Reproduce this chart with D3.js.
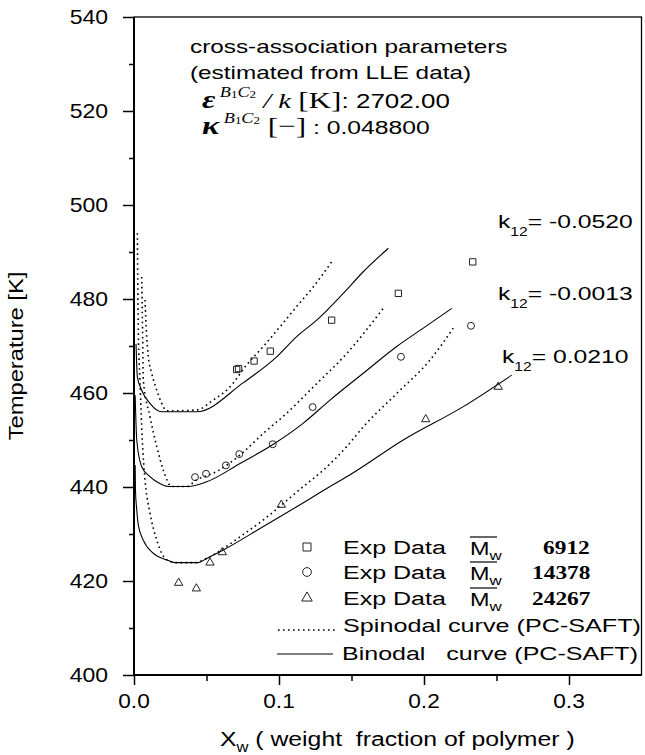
<!DOCTYPE html>
<html><head><meta charset="utf-8">
<script src="https://cdn.jsdelivr.net/npm/d3@7"></script>
<style>
body{margin:0;background:#fff}
svg{display:block}
text{font-family:"Liberation Sans",Arial,sans-serif;fill:#000;white-space:pre}
</style>
</head><body>
<svg id="c" width="645" height="755"></svg>
<script>
// ---------- data ----------
const xTicks = [0, 0.1, 0.2, 0.3];
const xMinor = [0.05, 0.15, 0.25];
const yTicks = [400, 420, 440, 460, 480, 500, 520, 540];
const yMinor = [410, 430, 450, 470, 490, 510, 530];

// Mw 6912, k12 = -0.0520
const exp6912_x = [0.0708, 0.0721, 0.0828, 0.094, 0.1363, 0.1823, 0.2336];
const exp6912_T = [465.0, 465.2, 466.8, 468.9, 475.5, 481.2, 487.9];
const bin6912_x = [0.0014, 0.0023, 0.0053, 0.011, 0.0191, 0.0432, 0.0754, 0.0984, 0.1122, 0.126, 0.1443, 0.1581, 0.1754];
const bin6912_T = [470.5, 463.5, 460.6, 457.8, 456.0, 456.0, 462.2, 467.7, 472.0, 475.5, 481.2, 485.8, 490.8];
const spin6912_x = [0.0076, 0.0086, 0.0099, 0.0122, 0.0157, 0.0191, 0.0226, 0.0432, 0.0547, 0.0662, 0.0777, 0.0892, 0.1007, 0.1122, 0.1237, 0.1363];
const spin6912_T = [479.8, 472.8, 467.7, 464.2, 460.6, 457.8, 456.2, 456.4, 458.5, 461.3, 466.0, 469.9, 474.1, 478.4, 482.6, 487.9];

// Mw 14378, k12 = -0.0013
const exp14378_x = [0.0421, 0.0497, 0.0634, 0.0726, 0.0957, 0.1232, 0.1841, 0.2324];
const exp14378_T = [442.1, 442.8, 444.6, 447.0, 449.1, 457.0, 467.7, 474.3];
const bin14378_x = [0.0008, 0.0019, 0.0053, 0.011, 0.0157, 0.0237, 0.0374, 0.0501, 0.0731, 0.0961, 0.1168, 0.1352, 0.1581, 0.1812, 0.1995, 0.2191];
const bin14378_T = [459.5, 450.0, 444.3, 442.2, 441.1, 440.1, 440.1, 441.1, 445.0, 449.1, 453.6, 458.5, 464.2, 469.9, 473.8, 478.0];
const spin14378_x = [0.0053, 0.0059, 0.0064, 0.011, 0.0157, 0.0202, 0.026, 0.0363, 0.0432, 0.057, 0.0731, 0.0892, 0.1053, 0.1237, 0.1467, 0.1719];
const spin14378_T = [484.7, 473.4, 462.8, 455.0, 448.6, 443.6, 440.1, 440.1, 441.5, 443.3, 446.8, 451.4, 455.7, 461.3, 468.4, 478.0];

// Mw 24267, k12 = 0.0210
const exp24267_x = [0.0308, 0.043, 0.0524, 0.0609, 0.1016, 0.2012, 0.2512];
const exp24267_T = [419.6, 418.4, 423.9, 426.1, 436.2, 454.4, 461.3];
const bin24267_x = [0.0008, 0.001, 0.0019, 0.003, 0.0064, 0.0133, 0.0226, 0.0283, 0.0443, 0.0501, 0.0616, 0.0892, 0.1122, 0.1352, 0.149, 0.1857, 0.2271, 0.2605];
const bin24267_T = [444.7, 439.4, 435.1, 431.9, 428.7, 425.9, 424.5, 423.9, 423.9, 424.8, 426.6, 431.6, 435.8, 440.1, 442.6, 450.0, 457.1, 463.8];
const spin24267_x = [0.0023, 0.003, 0.0041, 0.0057, 0.0076, 0.011, 0.0157, 0.0226, 0.0294, 0.042, 0.0501, 0.0616, 0.0731, 0.0892, 0.103, 0.1168, 0.1306, 0.1467, 0.1581, 0.1812, 0.2041, 0.2202];
const spin24267_T = [494.0, 472.8, 462.8, 450.0, 441.5, 434.5, 428.7, 424.5, 423.9, 423.9, 424.8, 426.9, 429.4, 433.0, 436.5, 440.1, 443.6, 448.6, 452.8, 459.9, 467.0, 473.8];

const kLabels = ["-0.0520", "-0.0013", "0.0210"];
const mwLabels = ["6912", "14378", "24267"];

// ---------- drawing ----------
const svg = d3.select("#c");
const x = d3.scaleLinear().domain([0, 0.35]).range([134, 641.5]);
const y = d3.scaleLinear().domain([400, 540]).range([675, 17]);

function stext(parent, tx, ty, sx, parts, anchor, rot) {
  const g = parent.append("g")
    .attr("transform", `translate(${tx},${ty})` + (rot ? ` rotate(${rot})` : "") + ` scale(${sx},1)`);
  const t = g.append("text").attr("text-anchor", anchor || "start");
  let cur = 0;
  parts.forEach(p => {
    const s = t.append("tspan").text(p.t);
    const sh = p.sh || 0;
    if (sh !== cur) { s.attr("dy", sh - cur); cur = sh; }
    s.style("font-size", (p.fs || 18) + "px");
    if (p.ff) s.style("font-family", p.ff);
    if (p.fw) s.style("font-weight", p.fw);
    if (p.fi) s.style("font-style", "italic");
  });
  return g;
}

// axes ticks
const gy = svg.append("g").attr("transform", "translate(134,0)");
gy.call(d3.axisLeft(y).tickValues(yTicks).tickSize(11).tickFormat(""));
gy.append("g").call(d3.axisLeft(y).tickValues(yMinor).tickSize(5).tickFormat(""));
const gx = svg.append("g").attr("transform", "translate(0,675)");
gx.call(d3.axisBottom(x).tickValues(xTicks).tickSize(10).tickFormat(""));
gx.append("g").call(d3.axisBottom(x).tickValues(xMinor).tickSize(6).tickFormat(""));
svg.selectAll(".domain").remove();
svg.selectAll(".tick line").attr("stroke", "#000").attr("stroke-width", 1.5);

// frame
svg.append("rect").attr("x", x(0)).attr("y", y(540))
  .attr("width", x(0.35) - x(0)).attr("height", y(400) - y(540))
  .attr("fill", "none").attr("stroke", "#000").attr("stroke-width", 1.3);
svg.append("line").attr("x1", x(0)).attr("x2", x(0)).attr("y1", y(540)).attr("y2", y(400))
  .attr("stroke", "#000").attr("stroke-width", 2);
svg.append("line").attr("x1", x(0)).attr("x2", x(0.35)).attr("y1", y(400)).attr("y2", y(400))
  .attr("stroke", "#000").attr("stroke-width", 2);

// tick labels
yTicks.forEach(v => stext(svg, 108, y(v) + 7, 1.15, [{t: String(v), fs: 20}], "end"));
xTicks.forEach(v => stext(svg, x(v), 708, 1.08, [{t: v.toFixed(1), fs: 21}], "middle"));

// axis titles
stext(svg, 23, 356, 1.13, [{t: "Temperature [K]", fs: 21}], "middle", -90);
stext(svg, 220, 746, 1.18, [{t: "X", fs: 21}, {t: "w", fs: 14, sh: 6}, {t: " ( weight  fraction of polymer )", fs: 21, sh: 0}], "start");

// curves
const line = d3.line().x(d => x(d[0])).y(d => y(d[1])).curve(d3.curveMonotoneX);
function curve(xs, ts, dotted) {
  svg.append("path").attr("d", line(xs.map((v, i) => [v, ts[i]])))
    .attr("fill", "none").attr("stroke", "#000")
    .attr("stroke-width", dotted ? 1.6 : 1.1)
    .attr("stroke-dasharray", dotted ? "1.6,3.4" : null);
}
curve(spin6912_x, spin6912_T, true);
curve(bin6912_x, bin6912_T, false);
curve(spin14378_x, spin14378_T, true);
curve(bin14378_x, bin14378_T, false);
curve(spin24267_x, spin24267_T, true);
curve(bin24267_x, bin24267_T, false);

// markers
const symSquare = d3.symbol().type(d3.symbolSquare);
const symCircle = d3.symbol().type(d3.symbolCircle);
const symTri = d3.symbol().type(d3.symbolTriangle);
function markers(xs, ts, sym, size) {
  xs.forEach((v, i) => {
    svg.append("path").attr("d", sym.size(size)())
      .attr("transform", `translate(${x(v)},${y(ts[i])})`)
      .attr("fill", "none").attr("stroke", "#222").attr("stroke-width", 1);
  });
}
markers(exp6912_x, exp6912_T, symSquare, 40);
markers(exp14378_x, exp14378_T, symCircle, 38);
markers(exp24267_x, exp24267_T, symTri, 30);

// k12 labels
const kPos = [[498, 228], [498, 300], [502, 363]];
kLabels.forEach((k, i) => {
  stext(svg, kPos[i][0], kPos[i][1], 1.3, [
    {t: "k", fs: 19}, {t: "12", fs: 12, sh: 8}, {t: "= " + k, fs: 19, sh: 0}
  ], "start");
});

// annotation
stext(svg, 190, 53, 1.28, [{t: "cross-association parameters", fs: 19}], "start");
stext(svg, 190, 79, 1.28, [{t: "(estimated from LLE data)", fs: 19}], "start");
const serif = '"Liberation Serif","Times New Roman",serif';
stext(svg, 202, 108, 1.3, [
  {t: "\u03B5", fs: 25, ff: serif, fw: "bold", fi: true},
  {t: " B", fs: 14, ff: serif, fi: true, sh: -11},
  {t: "1", fs: 10, ff: serif, sh: -10},
  {t: "C", fs: 14, ff: serif, fi: true, sh: -11},
  {t: "2", fs: 10, ff: serif, sh: -10},
  {t: " / k ", fs: 22, ff: serif, fi: true, sh: 0},
  {t: "[K]", fs: 24, ff: serif},
  {t: ": 2702.00", fs: 20}
], "start");
stext(svg, 202, 134, 1.3, [
  {t: "\u03BA", fs: 25, ff: serif, fw: "bold", fi: true},
  {t: " B", fs: 14, ff: serif, fi: true, sh: -11},
  {t: "1", fs: 10, ff: serif, sh: -10},
  {t: "C", fs: 14, ff: serif, fi: true, sh: -11},
  {t: "2", fs: 10, ff: serif, sh: -10},
  {t: " [\u2212]", fs: 24, ff: serif, sh: 0},
  {t: " : 0.048800", fs: 19}
], "start");

// legend
const legSyms = [[symSquare, 64], [symCircle, 60], [symTri, 48]];
const legY = [547, 572, 598];
legY.forEach((ly, i) => {
  svg.append("path").attr("d", legSyms[i][0].size(legSyms[i][1])())
    .attr("transform", `translate(307,${ly})`)
    .attr("fill", "none").attr("stroke", "#222").attr("stroke-width", 1);
  stext(svg, 343, ly + 7, 1.39, [{t: "Exp Data", fs: 18}], "start");
  stext(svg, 470, ly + 8, 1.3, [{t: "M", fs: 18}, {t: "w", fs: 13, sh: 5}], "start");
  svg.append("line").attr("x1", 470).attr("x2", 497).attr("y1", ly - 10).attr("y2", ly - 10)
    .attr("stroke", "#000").attr("stroke-width", 1.2);
  stext(svg, i === 0 ? 543 : 532, ly + 7, 1.3, [{t: mwLabels[i], fs: 18, ff: serif, fw: "bold"}], "start");
});
svg.append("line").attr("x1", 278).attr("x2", 337).attr("y1", 630).attr("y2", 630)
  .attr("stroke", "#000").attr("stroke-width", 1.6).attr("stroke-dasharray", "1.6,3.4");
stext(svg, 343, 632, 1.4, [{t: "Spinodal curve (PC-SAFT)", fs: 18}], "start");
svg.append("line").attr("x1", 277).attr("x2", 333).attr("y1", 654).attr("y2", 654)
  .attr("stroke", "#000").attr("stroke-width", 1.1);
stext(svg, 342, 660, 1.39, [{t: "Binodal   curve (PC-SAFT)", fs: 18}], "start");
</script>
</body></html>
